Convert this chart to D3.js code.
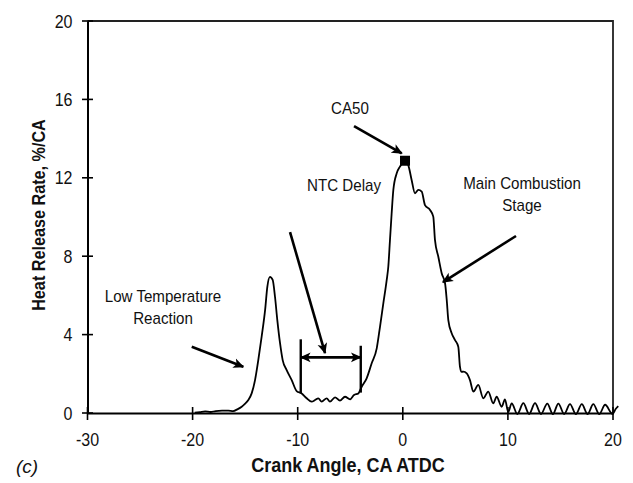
<!DOCTYPE html>
<html>
<head>
<meta charset="utf-8">
<script src="https://cdn.jsdelivr.net/npm/d3@7"></script>
<style>
  html, body { margin: 0; padding: 0; background: #fff; }
  svg { display: block; }
  text { font-family: "Liberation Sans", Arial, sans-serif; fill: #111; }
</style>
</head>
<body>
<svg id="chart" width="633" height="483"></svg>
<script>
// Heat release rate vs crank angle (two-stage HCCI combustion)
const crankAngle = [
  -19.8, -19.3, -18.8, -18.3, -17.8, -17.2, -16.6, -16.15, -15.7, -15.33,
  -15.0, -14.7, -14.38, -14.06, -13.75, -13.43, -13.1, -12.89, -12.64, -12.38,
  -12.16, -11.94, -11.68, -11.43, -11.05, -10.57, -10.1, -9.62, -9.14, -8.67,
  -8.35, -8.04, -7.72, -7.24, -6.93, -6.45, -5.98, -5.5, -5.02, -4.64,
  -4.23, -3.91, -3.44, -2.96, -2.48, -2.17, -1.85, -1.53, -1.38, -1.22,
  -1.06, -0.9, -0.58, -0.27, 0.21, 0.52, 0.84, 1.16, 1.48, 1.8,
  2.11, 2.59, 2.9, 3.06, 3.38, 3.7, 4.02, 4.18, 4.33, 4.65,
  4.97, 5.28, 5.44, 5.6, 5.76, 6.08, 6.39, 6.71, 7.18, 7.66,
  8.13, 8.61, 8.93, 9.41, 9.72, 10.03, 10.36, 10.9, 11.47, 12.02,
  12.58, 13.15, 13.75, 14.28, 14.8, 15.35, 15.91, 16.47, 17.03, 17.58,
  18.13, 18.69, 19.25, 19.95, 20.25, 20.5
];
const heatRelease = [
  0.02, 0.05, 0.08, 0.05, 0.1, 0.12, 0.12, 0.1, 0.2, 0.32,
  0.48, 0.66, 1.0, 1.68, 2.7, 3.9, 5.26, 6.44, 6.95, 6.79,
  5.93, 4.74, 3.56, 2.7, 2.19, 1.68, 1.12, 1.0, 0.75, 0.58,
  0.66, 0.75, 0.58, 0.75, 0.58, 0.8, 0.63, 0.83, 0.7, 0.92,
  1.0, 1.34, 1.77, 2.54, 3.3, 4.4, 5.6, 6.79, 7.46, 8.83,
  10.19, 11.38, 12.23, 12.57, 12.87, 12.65, 11.89, 11.21, 11.38, 11.29,
  10.61, 10.36, 10.02, 8.83, 7.97, 7.13, 6.62, 5.77, 4.74, 4.07,
  3.72, 3.38, 2.36, 2.1, 2.11, 2.02, 1.68, 1.09, 1.43, 0.75,
  1.09, 0.49, 0.83, 0.32, 0.7, 0.05, 0.49, -0.05, 0.5, -0.05,
  0.5, -0.05, 0.48, -0.06, 0.48, -0.05, 0.45, -0.06, 0.45, -0.05,
  0.45, -0.06, 0.42, -0.05, 0.2, 0.35
];

// CA50 point
const ca50 = { angle: 0.21, rate: 12.87 };

// Axis ticks
const xTicks = [-30, -20, -10, 0, 10, 20];
const yTicks = [0, 4, 8, 12, 16, 20];

// Annotation arrows: [x1, y1, x2, y2] in data units, arrowhead at (x2, y2)
const arrowLTR  = [-20.08, 3.38, -15.18, 2.36];
const arrowNTC  = [-10.73, 9.23, -7.4, 3.06];
const arrowCA50 = [-4.64, 14.64, -0.1, 13.25];
const arrowMain = [10.77, 9.03, 3.82, 6.68];
// NTC delay span
const ntcSpan = { start: -9.71, end: -4.0, level: 2.84,
                  startBar: [1.0, 3.76], endBar: [1.04, 3.43] };

const svg = d3.select("#chart");
const x = d3.scaleLinear().domain([-30, 20]).range([87.5, 613]);
const y = d3.scaleLinear().domain([0, 20]).range([413, 21]);

// arrowhead marker
svg.append("defs").append("marker")
  .attr("id", "head")
  .attr("viewBox", "0 0 10 10")
  .attr("refX", 9).attr("refY", 5)
  .attr("markerWidth", 4.2).attr("markerHeight", 4.2)
  .attr("markerUnits", "strokeWidth")
  .attr("orient", "auto-start-reverse")
  .append("path").attr("d", "M0,0.5 L10,5 L0,9.5 L2.5,5 Z").attr("fill", "#000");

// text helper with slightly condensed glyphs
function label(str, px, py, opts = {}) {
  const sx = opts.sx ?? 0.89;
  const t = svg.append("text")
    .attr("transform", `translate(${px},${py}) rotate(${opts.rotate || 0}) scale(${sx},1)`)
    .attr("text-anchor", opts.anchor || "middle")
    .attr("font-size", opts.size || 18)
    .text(str);
  if (opts.bold) t.attr("font-weight", "bold");
  if (opts.italic) t.attr("font-style", "italic");
  return t;
}

// frame: top and right borders
svg.append("path")
  .attr("d", `M${x(-30)},${y(20)} H${x(20)} V${y(0)}`)
  .attr("fill", "none").attr("stroke", "#222").attr("stroke-width", 1.8);

// y axis
const yAxis = svg.append("g").attr("transform", `translate(${x(-30)},0)`)
  .call(d3.axisLeft(y).tickValues(yTicks).tickSize(0).tickFormat(""));
yAxis.select(".domain").attr("stroke", "#000").attr("stroke-width", 2);
yTicks.forEach(v => {
  svg.append("line").attr("x1", x(-30) - 5.5).attr("x2", x(-30) + 5.5)
    .attr("y1", y(v)).attr("y2", y(v)).attr("stroke", "#000").attr("stroke-width", 1.6);
  label(String(v), x(-30) - 15, y(v) + 6.5, { anchor: "end" });
});

// x axis
const xAxis = svg.append("g").attr("transform", `translate(0,${y(0)})`)
  .call(d3.axisBottom(x).tickValues(xTicks).tickSize(0).tickFormat(""));
xAxis.select(".domain").attr("stroke", "#000").attr("stroke-width", 2);
xTicks.forEach(v => {
  svg.append("line").attr("x1", x(v)).attr("x2", x(v))
    .attr("y1", y(0) - 6).attr("y2", y(0) + 7).attr("stroke", "#000").attr("stroke-width", 1.6);
  label(String(v), x(v), y(0) + 33);
});

// axis titles
label("Heat Release Rate, %/CA", 45, (y(0) + y(20)) / 2 - 2, { rotate: -90, bold: true, size: 18, sx: 0.9 });
label("Crank Angle, CA ATDC", 348, 472, { bold: true, size: 20, sx: 0.9 });
label("(c)", 16, 473, { anchor: "start", italic: true, size: 19, sx: 1 });

// curve
const pts = crankAngle.map((a, i) => [a, heatRelease[i]]);
svg.append("path").datum(pts)
  .attr("fill", "none").attr("stroke", "#000").attr("stroke-width", 1.8)
  .attr("stroke-linejoin", "round")
  .attr("d", d3.line().x(d => x(d[0])).y(d => y(d[1])).curve(d3.curveMonotoneX));

// CA50 marker
svg.append("rect")
  .attr("x", x(ca50.angle) - 5).attr("y", y(ca50.rate) - 5)
  .attr("width", 10).attr("height", 10).attr("fill", "#000");

// arrows
function arrow(a) {
  svg.append("line")
    .attr("x1", x(a[0])).attr("y1", y(a[1])).attr("x2", x(a[2])).attr("y2", y(a[3]))
    .attr("stroke", "#000").attr("stroke-width", 2.6)
    .attr("marker-end", "url(#head)");
}
[arrowLTR, arrowNTC, arrowCA50, arrowMain].forEach(arrow);

// NTC delay double arrow with end bars
svg.append("line")
  .attr("x1", x(ntcSpan.start)).attr("x2", x(ntcSpan.end))
  .attr("y1", y(ntcSpan.level)).attr("y2", y(ntcSpan.level))
  .attr("stroke", "#000").attr("stroke-width", 2.6)
  .attr("marker-start", "url(#head)").attr("marker-end", "url(#head)");
[[ntcSpan.start, ntcSpan.startBar], [ntcSpan.end, ntcSpan.endBar]].forEach(([a, b]) => {
  svg.append("line").attr("x1", x(a)).attr("x2", x(a))
    .attr("y1", y(b[0])).attr("y2", y(b[1]))
    .attr("stroke", "#000").attr("stroke-width", 2.4);
});

// annotation labels
label("CA50", 350, 114, { size: 17 });
label("NTC Delay", 344, 191, { size: 17 });
label("Main Combustion", 522, 189, { size: 17 });
label("Stage", 522, 211, { size: 17 });
label("Low Temperature", 163, 302, { size: 17 });
label("Reaction", 163, 324, { size: 17 });
</script>
</body>
</html>
